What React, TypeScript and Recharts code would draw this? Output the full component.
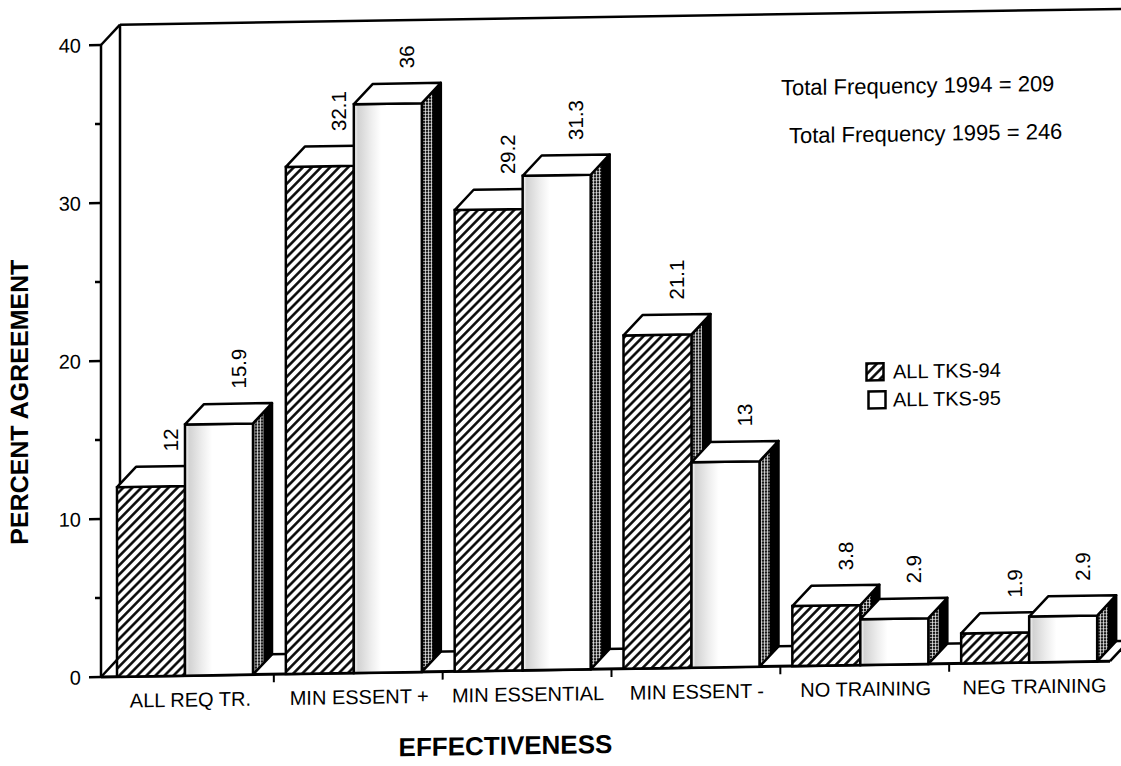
import React from "react";
import { BarChart, Bar, XAxis, YAxis, ReferenceArea, LabelList, Legend } from "recharts";

// categories along the floor
const categories = ["ALL REQ TR.", "MIN ESSENT +", "MIN ESSENTIAL", "MIN ESSENT -", "NO TRAINING", "NEG TRAINING"];
// percent agreement per year
const tks94 = [12, 32.1, 29.2, 21.1, 3.8, 1.9];
const tks95 = [15.9, 36, 31.3, 13, 2.9, 2.9];
const yTicks = [0, 5, 10, 15, 20, 25, 30, 35, 40];
const seriesNames = ["ALL TKS-94", "ALL TKS-95"];
const totals = ["Total Frequency 1994 = 209", "Total Frequency 1995 = 246"];

const data = categories.map((name, i) => ({ name, y94: tks94[i], y95: tks95[i] }));

const W = 1121;
const H = 766;
const DX = 19; // depth offset of the 3d boxes
const DY = 20;
const FONT = '"Liberation Sans", Arial, Helvetica, sans-serif';

function Box3D(props: any) {
  const { x, y, width: w, height: h, front } = props;
  if (h == null || isNaN(h)) return null;
  const b = y + h;
  const sx = x + w;
  const k = 0.55;
  const side = `${sx},${y} ${sx + DX},${y - DY} ${sx + DX},${b - DY} ${sx},${b}`;
  const dark = `${sx + DX * k},${y - DY * k} ${sx + DX},${y - DY} ${sx + DX},${b - DY} ${sx + DX * k},${b - DY * k}`;
  const top = `${x},${y} ${x + DX},${y - DY} ${sx + DX},${y - DY} ${sx},${y}`;
  return (
    <g>
      <polygon points={side} fill="url(#stipple)" />
      <polygon points={dark} fill="#000" />
      <polygon points={side} fill="none" stroke="#000" strokeWidth={2.5} strokeLinejoin="round" />
      <rect x={x} y={y} width={w} height={h} fill={front} stroke="#000" strokeWidth={2.5} />
      <polygon points={top} fill="#fff" stroke="#000" strokeWidth={2.5} strokeLinejoin="round" />
    </g>
  );
}

function WallAndFloor(props: any) {
  const { x, y, width, height } = props;
  const bot = y + height;
  const right = x + width - 4;
  return (
    <g stroke="#000" strokeWidth={2.5} fill="none">
      <line x1={x + DX} y1={bot - DY} x2={W + 20} y2={bot - DY} />
      <line x1={x} y1={bot} x2={right} y2={bot} strokeWidth={3} />
      <line x1={right} y1={bot} x2={right + DX} y2={bot - DY} />
      <line x1={x} y1={bot} x2={x + DX} y2={bot - DY} />
      <line x1={x} y1={y} x2={x + DX} y2={y - DY} />
      <line x1={x + DX} y1={y - DY} x2={x + DX} y2={bot - DY} />
      <line x1={x + DX} y1={y - DY} x2={W + 20} y2={y - DY} />
    </g>
  );
}

function YTick({ x, y, payload }: any) {
  const major = payload.value % 10 === 0;
  return (
    <g>
      <line x1={x - (major ? 12 : 6)} x2={x} y1={y} y2={y} stroke="#000" strokeWidth={2.5} />
      {major && (
        <text x={x - 20} y={y} dy="0.36em" textAnchor="end" fontSize={20} fontFamily={FONT} fill="#000">
          {payload.value}
        </text>
      )}
    </g>
  );
}

function XTick({ x, y, payload }: any) {
  const half = payload.offset || 84.4;
  const tx = x - half + 4;
  return (
    <g>
      {payload.index > 0 && <line x1={tx} x2={tx} y1={y} y2={y + 8} stroke="#000" strokeWidth={2} />}
      <text x={x + 5} y={y + 31} textAnchor="middle" fontSize={20} fontFamily={FONT} fill="#000">
        {payload.value}
      </text>
    </g>
  );
}

const renderValue = (p: any) => {
  const { x, y, width, value } = p;
  const tx = x + width * 0.78;
  const ty = y - DY - 15;
  return (
    <text
      x={tx}
      y={ty}
      transform={`rotate(-90 ${tx} ${ty})`}
      textAnchor="start"
      dominantBaseline="central"
      fontSize={20.5}
      fontFamily={FONT}
      fill="#000"
    >
      {value}
    </text>
  );
};

const LegendBox = () => (
  <div style={{ fontFamily: FONT, fontSize: 20, color: "#000" }}>
    {seriesNames.map((n, i) => (
      <div key={n} style={{ display: "flex", alignItems: "center", height: 28 }}>
        <svg width={20} height={20} style={{ marginLeft: i * 2 }}>
          <rect x={1.5} y={1.5} width={17} height={17} fill={i === 0 ? "url(#hatch)" : "#fff"} stroke="#000" strokeWidth={2.5} />
        </svg>
        <span style={{ marginLeft: 8 - i * 2 }}>{n}</span>
      </div>
    ))}
  </div>
);

export default function App() {
  return (
    <div
      style={{
        position: "absolute",
        left: 0,
        top: 0,
        width: W,
        height: H,
        background: "#fff",
        fontFamily: FONT,
        transform: "skewY(-0.9deg)",
        transformOrigin: "100px 677px",
      }}
    >
      <BarChart width={W} height={H} data={data} margin={{ top: 45, right: 7, left: 0, bottom: 0 }} barGap={0} barSize={68}>
        <defs>
          <pattern id="hatch" width="6.5" height="6.5" patternUnits="userSpaceOnUse" patternTransform="rotate(45)">
            <rect width="6.5" height="6.5" fill="#fff" />
            <line x1="3.25" y1="0" x2="3.25" y2="6.5" stroke="#000" strokeWidth="2.5" />
          </pattern>
          <pattern id="stipple" width="3" height="3" patternUnits="userSpaceOnUse">
            <rect width="3" height="3" fill="#fff" />
            <rect width="2.4" height="2.4" fill="#1a1a1a" />
          </pattern>
          <linearGradient id="shade95" x1="0" y1="0" x2="1" y2="0">
            <stop offset="0" stopColor="#fff" />
            <stop offset="0.06" stopColor="#d2d2d2" />
            <stop offset="0.25" stopColor="#ededed" />
            <stop offset="0.4" stopColor="#fff" />
          </linearGradient>
        </defs>
        <ReferenceArea y1={0} y2={40} ifOverflow="visible" shape={(p: any) => <WallAndFloor {...p} />} />
        <XAxis
          dataKey="name"
          height={89}
          axisLine={false}
          tickLine={false}
          tickSize={0}
          tickMargin={0}
          interval={0}
          tick={<XTick />}
          label={{
            value: "EFFECTIVENESS",
            position: "insideBottom",
            offset: 5,
            dx: -102,
            fill: "#000",
            fontSize: 26,
            fontWeight: "bold",
            fontFamily: FONT,
          }}
        />
        <YAxis
          width={101}
          domain={[0, 40]}
          ticks={yTicks}
          interval={0}
          tickSize={0}
          tickMargin={0}
          tickLine={false}
          axisLine={{ stroke: "#000", strokeWidth: 2.5 }}
          tick={<YTick />}
          label={{
            content: () => (
              <text
                x={19}
                y={401}
                transform="rotate(-90 19 401)"
                textAnchor="middle"
                dominantBaseline="central"
                fontSize={25}
                fontWeight="bold"
                fontFamily={FONT}
                fill="#000"
              >
                PERCENT AGREEMENT
              </text>
            ),
          }}
        />
        <Legend
          layout="vertical"
          align="center"
          verticalAlign="middle"
          wrapperStyle={{ left: 865, top: 370, width: 200 }}
          content={<LegendBox />}
        />
        <Bar dataKey="y94" name={seriesNames[0]} isAnimationActive={false} shape={(p: any) => <Box3D {...p} front="url(#hatch)" />}>
          <LabelList dataKey="y94" content={renderValue} />
        </Bar>
        <Bar dataKey="y95" name={seriesNames[1]} isAnimationActive={false} shape={(p: any) => <Box3D {...p} front="url(#shade95)" />}>
          <LabelList dataKey="y95" content={renderValue} />
        </Bar>
      </BarChart>
      {totals.map((t, i) => (
        <div
          key={t}
          style={{
            position: "absolute",
            left: 781 + i * 8,
            top: 88 + i * 48,
            fontSize: 22,
            lineHeight: 1,
            whiteSpace: "nowrap",
            color: "#000",
          }}
        >
          {t}
        </div>
      ))}
    </div>
  );
}
